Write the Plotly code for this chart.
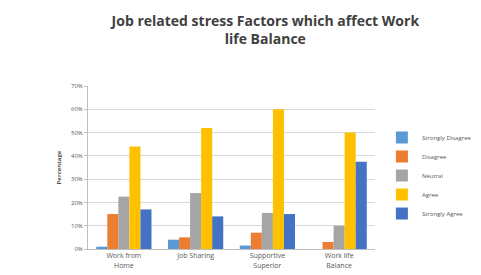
import plotly.graph_objects as go

categories = ["Work from<br>Home", "Job Sharing", "Supportive<br>Superior", "Work life<br>Balance"]
series_names = ["Strongly Disagree", "Disagree", "Neutral", "Agree", "Strongly Agree"]
strongly_disagree = [0.01, 0.04, 0.015, 0.0]
disagree = [0.15, 0.05, 0.07, 0.03]
neutral = [0.225, 0.24, 0.155, 0.10]
agree = [0.44, 0.52, 0.60, 0.50]
strongly_agree = [0.17, 0.14, 0.15, 0.375]
colors = ["#5B9BD5", "#ED7D31", "#A5A5A5", "#FFC000", "#4472C4"]
tick_vals = [0, 0.1, 0.2, 0.3, 0.4, 0.5, 0.6, 0.7]

fig = go.Figure()
for name, vals, c in zip(series_names,
                         [strongly_disagree, disagree, neutral, agree, strongly_agree],
                         colors):
    fig.add_trace(go.Bar(name=name, x=categories, y=vals, marker_color=c,
                         marker_line_width=0))

fig.update_layout(
    width=481, height=275,
    barmode="group", bargap=0.23, bargroupgap=0,
    paper_bgcolor="white", plot_bgcolor="white",
    margin=dict(l=80, r=106, t=78, b=34),
    font=dict(family="Open Sans, Liberation Sans, sans-serif", color="#595959"),
    title=dict(text="<b>Job related stress Factors which affect Work<br>life Balance</b>",
               x=0.535, xanchor="center", y=0.935, yanchor="top",
               font=dict(size=14, color="#404040")),
    legend=dict(x=1.024, y=0.773, xanchor="left", yanchor="top",
                font=dict(size=6, color="#595959"), itemwidth=30,
                tracegroupgap=0),
    showlegend=True,
)
fig.update_yaxes(range=[0, 0.7], tickvals=tick_vals, tickformat=".0%",
                 showgrid=True, gridcolor="#D9D9D9", gridwidth=1,
                 showline=True, linecolor="#BFBFBF", ticks="outside",
                 ticklen=3, tickcolor="#BFBFBF",
                 tickfont=dict(size=6), zeroline=False,
                 title=dict(text="<b>Percentage</b>", font=dict(size=6), standoff=8))
fig.update_xaxes(showline=True, linecolor="#BFBFBF", tickfont=dict(size=7),
                 ticks="")

fig.write_html("out.html")
